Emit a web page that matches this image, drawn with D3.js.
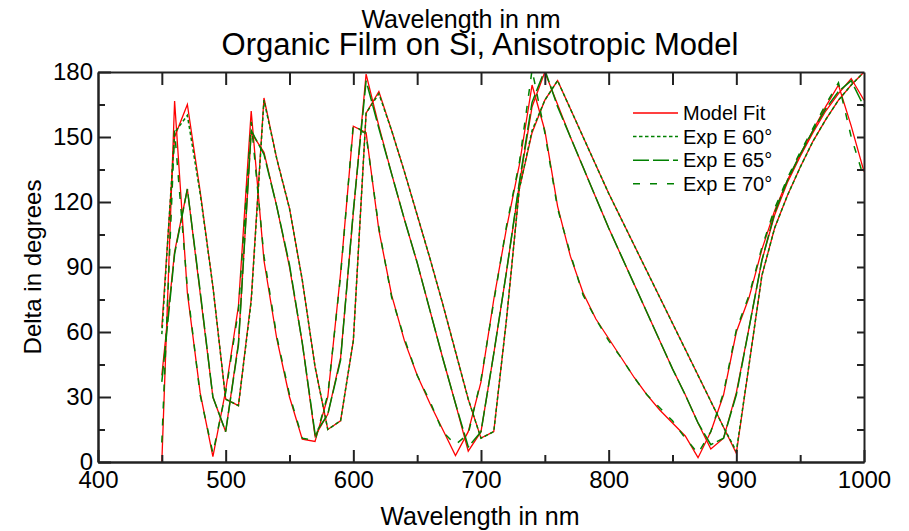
<!DOCTYPE html>
<html>
<head>
<meta charset="utf-8">
<script src="https://cdn.jsdelivr.net/npm/d3@7"></script>
<style>
  body { margin: 0; background: #fff; }
  text { font-family: "Liberation Sans", Arial, sans-serif; fill: #000; }
</style>
</head>
<body>
<div id="chart"></div>
<script>
// data ///////////////////////////
var wavelengths = [450,460,470,480,490,500,510,520,530,540,550,560,570,580,590,600,610,620,630,640,650,660,670,680,690,700,710,720,730,740,750,760,770,780,790,800,810,820,830,840,850,860,870,880,890,900,910,920,930,940,950,960,970,980,990,1000];

// model fit, one curve per angle
var model70 = [0,166.6,78,32,2.5,33,72,162,93,57,30,10.5,9.5,30,87,155,152,107,77,56,40,27,15,3,14,37,75,108,137,174,153,118,95,78,66,57,48,39,31,24,18,12,2,14,31,60,76,98,116,130,142,153,164,174,155,134];
var model65 = [40,97,126,78,30,14,55,152,143,118,90,55,12,22,48,115,179,155,133,112,92,70,48,27,5,14,50,88,128,164,180,165,150,136,122,108,95,82,69,56,43,31,18,6,11,32,62,93,114,129,141,152,162,170,177,167];
var model60 = [62,150,165,125,81,29,26,75,168,140,117,84,44,15,19,56,161,171,153,134,114,94,73,51,29,11,14,66,126,152,167,176,163,150,137,124,112,100,88,76,64,52,40,28,16,4,45,86,108,123,136,148,158,167,174,180];

// experimental data
var exp70 = [9,153,80,31,4,32,70,157,95,58,31,11,10,31,86,156,151,108,76,57,40,28,14,8,13,38,74,109,138,181,152,117,96,77,66,56,48,39,31,25,19,11,4,14,32,61,77,99,117,131,143,154,165,175,150,131];
var exp65 = [37,96,126,79,30,14,54,153,142,118,91,55,13,22,47,116,176,154,133,112,92,70,48,27,7,14,50,88,129,166,181,164,150,136,122,108,95,82,69,56,43,31,18,8,11,31,62,93,115,130,142,153,163,171,176,164];
var exp60 = [59,152,160,124,81,29,26,74,167,140,117,84,44,15,19,56,161,170,153,134,114,94,73,51,29,11,14,66,126,153,167,176,163,150,137,124,112,100,88,76,64,52,40,28,16,5,45,86,108,123,136,148,158,167,174,180];

var xTicks = [400,500,600,700,800,900,1000];
var xMinorTicks = [450,550,650,750,850,950];
var xTopTicks = [450,500,550,600,650,700,750,800,850,900,950];
var yTicks = [0,30,60,90,120,150,180];
var yMinorTicks = [15,45,75,105,135,165];
var yRightTicks = [15,30,45,60,75,90,105,120,135,150,165];

var legendLabels = ["Model Fit", "Exp E 60\u00b0", "Exp E 65\u00b0", "Exp E 70\u00b0"];

//setup///////////////////////////
var W = 909, H = 531;
var pLeft = 98, pRight = 864, pTop = 72, pBottom = 462;
var red = "#ff0000", green = "#008000";

var svg = d3.select('#chart')
    .append('svg')
    .attr('width', W)
    .attr('height', H);

var x = d3.scaleLinear().domain([400, 1000]).range([pLeft, pRight]);
var y = d3.scaleLinear().domain([0, 180]).range([pBottom, pTop]);

svg.append('defs').append('clipPath').attr('id', 'plot')
    .append('rect')
    .attr('x', pLeft).attr('y', pTop)
    .attr('width', pRight - pLeft).attr('height', pBottom - pTop);

//series///////////////////////////
var line = d3.line()
    .x(function(d) { return x(d[0]); })
    .y(function(d) { return y(d[1]); });

function pairs(vals) {
    return wavelengths.map(function(w, i) { return [w, vals[i]]; });
}

var series = [
    {vals: model70, color: red, width: 1.3, dash: null},
    {vals: model65, color: red, width: 1.3, dash: null},
    {vals: model60, color: red, width: 1.3, dash: null},
    {vals: exp60, color: green, width: 1.5, dash: "3.5,2.5"},
    {vals: exp65, color: green, width: 1.5, dash: "16,4"},
    {vals: exp70, color: green, width: 1.5, dash: "7,10"}
];

var plot = svg.append('g').attr('clip-path', 'url(#plot)');
series.forEach(function(s) {
    plot.append('path')
        .datum(pairs(s.vals))
        .attr('d', line)
        .attr('fill', 'none')
        .attr('stroke', s.color)
        .attr('stroke-width', s.width)
        .attr('stroke-dasharray', s.dash);
});

//axes///////////////////////////
function styleAxis(g, size) {
    g.attr('font-size', null).attr('font-family', null);
    g.selectAll('path, line').attr('stroke', '#222').attr('stroke-width', 2);
    g.selectAll('text').style('font-size', size + 'px');
}

svg.append('g').attr('transform', 'translate(0,' + pBottom + ')')
    .call(d3.axisBottom(x).tickValues(xTicks).tickSize(-12).tickSizeOuter(0).tickPadding(9).tickFormat(d3.format('d')))
    .call(styleAxis, 24);
svg.append('g').attr('transform', 'translate(0,' + pBottom + ')')
    .call(d3.axisBottom(x).tickValues(xMinorTicks).tickSize(-7).tickSizeOuter(0).tickFormat(''))
    .call(styleAxis, 24);
svg.append('g').attr('transform', 'translate(0,' + pTop + ')')
    .call(d3.axisTop(x).tickValues(xTopTicks).tickSize(-13).tickSizeOuter(0).tickFormat(''))
    .call(styleAxis, 24);
svg.append('g').attr('transform', 'translate(' + pLeft + ',0)')
    .call(d3.axisLeft(y).tickValues(yTicks).tickSize(-13).tickSizeOuter(0).tickPadding(5))
    .call(styleAxis, 24);
svg.append('g').attr('transform', 'translate(' + pLeft + ',0)')
    .call(d3.axisLeft(y).tickValues(yMinorTicks).tickSize(-7).tickSizeOuter(0).tickFormat(''))
    .call(styleAxis, 24);
svg.append('g').attr('transform', 'translate(' + pRight + ',0)')
    .call(d3.axisRight(y).tickValues(yRightTicks).tickSize(-7).tickSizeOuter(0).tickFormat(''))
    .call(styleAxis, 24);

//titles///////////////////////////
svg.append('text')
    .attr('x', 461).attr('y', 28)
    .style('text-anchor', 'middle')
    .style('font-size', '25px')
    .text('Wavelength in nm');

svg.append('text')
    .attr('x', 480).attr('y', 55)
    .style('text-anchor', 'middle')
    .style('font-size', '31px')
    .text('Organic Film on Si, Anisotropic Model');

svg.append('text')
    .attr('x', 480).attr('y', 525)
    .style('text-anchor', 'middle')
    .style('font-size', '25px')
    .text('Wavelength in nm');

svg.append('text')
    .attr('transform', 'translate(41,' + (pTop + pBottom) / 2 + ') rotate(-90)')
    .style('text-anchor', 'middle')
    .style('font-size', '24px')
    .text('Delta in degrees');

//legend///////////////////////////
var legendStyles = [series[0], series[3], series[4], series[5]];
var legend = svg.append('g');
legendLabels.forEach(function(label, i) {
    var ly = 113 + i * 23.6;
    legend.append('line')
        .attr('x1', 633).attr('x2', 678)
        .attr('y1', ly).attr('y2', ly)
        .attr('stroke', legendStyles[i].color)
        .attr('stroke-width', legendStyles[i].width)
        .attr('stroke-dasharray', legendStyles[i].dash);
    legend.append('text')
        .attr('x', 683).attr('y', ly + 7)
        .style('font-size', '20px')
        .text(label);
});
</script>
</body>
</html>
